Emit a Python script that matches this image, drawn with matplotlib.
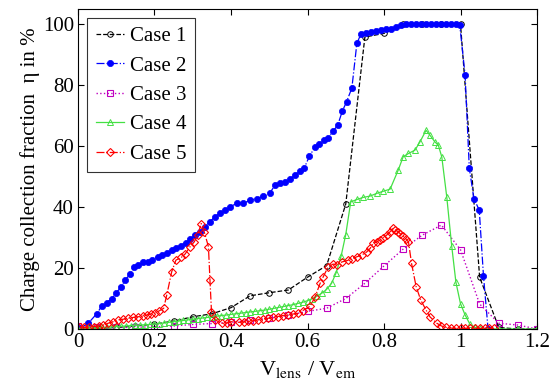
import numpy as np
import matplotlib
matplotlib.use("Agg")
import matplotlib.pyplot as plt
from matplotlib.ticker import FormatStrFormatter

plt.rcParams['font.family'] = ['Liberation Serif', 'DejaVu Serif']
plt.rcParams['mathtext.fontset'] = 'stix'

# Case 1
x1 = [0, 0.05, 0.1, 0.15, 0.2, 0.25, 0.3, 0.35, 0.4, 0.45, 0.5, 0.55, 0.6,
      0.65, 0.7, 0.75, 0.8, 0.85, 0.9, 0.95, 1.0, 1.05, 1.1, 1.15, 1.2]
y1 = [0, 0.2, 0.5, 1, 1.6, 2.6, 4, 5, 7, 10.9, 11.9, 12.8, 17,
      20.8, 41, 95.8, 97, 100, 100, 100, 100, 17, 0.5, 0, 0]

# Case 2
x2 = [0.005, 0.027, 0.049, 0.062, 0.075, 0.088, 0.099, 0.112, 0.123, 0.136,
      0.147, 0.158, 0.171, 0.182, 0.194, 0.208, 0.220, 0.233, 0.245, 0.257,
      0.269, 0.282, 0.293, 0.306, 0.319, 0.332, 0.345, 0.358, 0.371, 0.384,
      0.397, 0.415, 0.432, 0.450, 0.467, 0.484, 0.502, 0.515, 0.528, 0.541,
      0.554, 0.567, 0.580, 0.591, 0.605, 0.620, 0.631, 0.643, 0.654, 0.667,
      0.679, 0.691, 0.702, 0.716, 0.729, 0.740, 0.753, 0.766, 0.779, 0.792,
      0.805, 0.818, 0.831, 0.844, 0.857, 0.870, 0.883, 0.896, 0.909, 0.922,
      0.935, 0.948, 0.961, 0.974, 0.987, 0.998, 1.012, 1.023, 1.035, 1.049,
      1.060, 1.072]
y2 = [0.2, 1.9, 5, 7.5, 8.6, 10, 11.7, 13.7, 16, 18,
      20.4, 21, 21.9, 22.1, 22.8, 23.7, 24.3, 24.8, 25.9, 26.7,
      27.4, 28.3, 29.4, 30.8, 31.9, 33.5, 35.2, 36.8, 38.1, 39,
      40.1, 41.2, 41.2, 42.3, 42.8, 43.6, 44.7, 47.2, 48, 48.3,
      49.1, 50.5, 51.9, 52.7, 56.7, 59.8, 60.8, 62, 62.8, 64.9,
      66.9, 71.5, 74.5, 79.1, 93.7, 96.9, 97.2, 97.5, 97.8, 98,
      98.3, 98.6, 99, 99.6, 100, 100, 100, 100, 100, 100,
      100, 100, 100, 100, 100, 99.7, 83.3, 52.7, 42.8, 39,
      17.5, 0]

# Case 3
x3 = [0, 0.05, 0.1, 0.15, 0.2, 0.25, 0.3, 0.35, 0.4, 0.45, 0.5, 0.55, 0.6,
      0.65, 0.7, 0.75, 0.8, 0.85, 0.9, 0.95, 1.0, 1.05, 1.1, 1.15, 1.2]
y3 = [1, 0.5, 0.5, 0.6, 0.7, 1, 1.5, 1.8, 2.2, 2.8, 3.5, 4.5, 5.8,
      6.8, 10, 15, 20.7, 26.2, 30.8, 34.1, 26, 8.2, 1.9, 1.3, 0]

# Case 4
x4 = [0.000, 0.013, 0.025, 0.038, 0.050, 0.063, 0.075, 0.088, 0.100, 0.113,
      0.125, 0.138, 0.150, 0.163, 0.175, 0.188, 0.200, 0.213, 0.225, 0.238,
      0.250, 0.263, 0.275, 0.288, 0.300, 0.313, 0.325, 0.338, 0.350, 0.363,
      0.375, 0.388, 0.400, 0.413, 0.425, 0.438, 0.450, 0.463, 0.475, 0.488,
      0.500, 0.513, 0.525, 0.538, 0.550, 0.563, 0.575, 0.588, 0.600, 0.613,
      0.625, 0.638, 0.650, 0.663, 0.675, 0.688, 0.700, 0.713, 0.729, 0.746,
      0.763, 0.781, 0.798, 0.816, 0.837, 0.850, 0.864, 0.881, 0.894, 0.910,
      0.920, 0.933, 0.942, 0.951, 0.964, 0.977, 0.988, 1.000, 1.012, 1.025,
      1.038, 1.050, 1.100, 1.150, 1.200]
y4 = [0.0, 0.1, 0.2, 0.3, 0.4, 0.5, 0.6, 0.7, 0.8, 0.9,
      1.0, 1.1, 1.2, 1.3, 1.4, 1.5, 1.6, 1.8, 2.0, 2.2,
      2.4, 2.6, 2.8, 3.0, 3.2, 3.4, 3.6, 3.8, 4.0, 4.2,
      4.4, 4.6, 4.8, 5.0, 5.2, 5.4, 5.6, 5.8, 6.0, 6.2,
      6.5, 6.8, 7.1, 7.4, 7.7, 8.0, 8.4, 8.8, 9.3, 10,
      10.8, 11.8, 13, 15, 18.5, 24, 31, 41.7, 42.5, 43.2,
      43.6, 44.5, 45.2, 45.9, 52.1, 56.5, 57.6, 58.7, 61.4, 65.2,
      63.6, 61.4, 60.3, 56.5, 43.4, 27.2, 15.3, 8.3, 4.6, 1.5,
      0.5, 0.2, 0, 0, 0]

# Case 5
x5 = [0.005, 0.017, 0.030, 0.042, 0.054, 0.066, 0.079, 0.092, 0.105, 0.118,
      0.131, 0.144, 0.157, 0.170, 0.181, 0.192, 0.202, 0.213, 0.224, 0.232,
      0.245, 0.256, 0.270, 0.280, 0.293, 0.304, 0.313, 0.322, 0.330, 0.341,
      0.345, 0.349, 0.358, 0.376, 0.390, 0.400, 0.420, 0.433, 0.445, 0.458,
      0.470, 0.483, 0.496, 0.509, 0.522, 0.535, 0.548, 0.561, 0.574, 0.587,
      0.607, 0.620, 0.633, 0.641, 0.654, 0.667, 0.676, 0.690, 0.705, 0.717,
      0.729, 0.742, 0.755, 0.764, 0.772, 0.781, 0.790, 0.798, 0.807, 0.815,
      0.824, 0.830, 0.837, 0.843, 0.850, 0.857, 0.864, 0.872, 0.884, 0.896,
      0.910, 0.920, 0.938, 0.950, 0.963, 0.975, 0.988, 1.000, 1.013, 1.025,
      1.038, 1.050, 1.063, 1.075, 1.087]
y5 = [0.8, 0.5, 0.6, 0.8, 1.0, 1.3, 1.9, 2.4, 3.0, 3.2,
      3.5, 3.8, 4.0, 4.3, 4.6, 5.0, 5.3, 6.0, 6.8, 11.1,
      18.8, 22.6, 23.5, 24.6, 27, 28.6, 30.8, 34.6, 31.9, 27,
      16.1, 5.7, 3, 1.9, 2.0, 2.4, 2.2, 2.3, 2.5, 2.7,
      3.0, 3.3, 3.5, 3.8, 4.1, 4.4, 4.6, 4.9, 5.1, 6.0,
      7.5, 10.6, 15, 17.1, 20.4, 21.3, 21.0, 22, 22.5, 23,
      23.7, 24.3, 25.3, 26.5, 28.1, 28.6, 29.2, 30, 30.8, 31.8,
      33, 32.5, 31.9, 31.2, 30.5, 29.6, 28.6, 21.5, 13.9, 9.5,
      6.2, 4, 1.9, 1.0, 0.5, 0.3, 0.2, 0.2, 0.2, 0.2,
      0.2, 0.2, 0.2, 0.2, 0.2]

fig = plt.figure(figsize=(5.5, 3.92), dpi=100)
ax = fig.add_axes([0.1418, 0.1607, 0.8346, 0.8163])

ax.plot(x1, y1, color='black', linestyle='--', linewidth=0.9, marker='o',
        markersize=4, markerfacecolor='none', markeredgewidth=0.7, label='Case 1')
ax.plot(x2, y2, color='#0000ff', linestyle='-.', linewidth=0.9, marker='o',
        markersize=4.5, markerfacecolor='#0000ff', markeredgewidth=0.5, label='Case 2')
ax.plot(x3, y3, color='#c000c0', linestyle=':', linewidth=1.0, marker='s',
        markersize=4.5, markerfacecolor='none', markeredgewidth=0.8, label='Case 3')
ax.plot(x4, y4, color='#44e044', linestyle='-', linewidth=0.9, marker='^',
        markersize=4.5, markerfacecolor='none', markeredgewidth=0.7, label='Case 4')
ax.plot(x5, y5, color='#ff0000', linestyle='-.', linewidth=0.9, marker='D',
        markersize=4, markerfacecolor='none', markeredgewidth=0.8, label='Case 5')

ax.set_xlim(0, 1.2)
ax.set_ylim(0, 105)
ax.set_xticks([0, 0.2, 0.4, 0.6, 0.8, 1.0, 1.2])
ax.set_yticks([0, 20, 40, 60, 80, 100])
ax.xaxis.set_major_formatter(FormatStrFormatter('%g'))
ax.tick_params(direction='in', top=True, right=True, labelsize=15, length=4, pad=3)

ax.set_xlabel(r'V$_{\mathrm{lens}}$ / V$_{\mathrm{em}}$', fontsize=16, labelpad=5)
ax.set_ylabel('Charge collection fraction  η in %', fontsize=15, labelpad=2)

leg = ax.legend(loc='upper left', fontsize=15, frameon=True, fancybox=False,
                edgecolor='black', handlelength=1.35, handletextpad=0.3,
                borderpad=0.4, labelspacing=0.47, borderaxespad=0.45)
leg.get_frame().set_linewidth(0.8)

fig.savefig('out.png', dpi=100)
